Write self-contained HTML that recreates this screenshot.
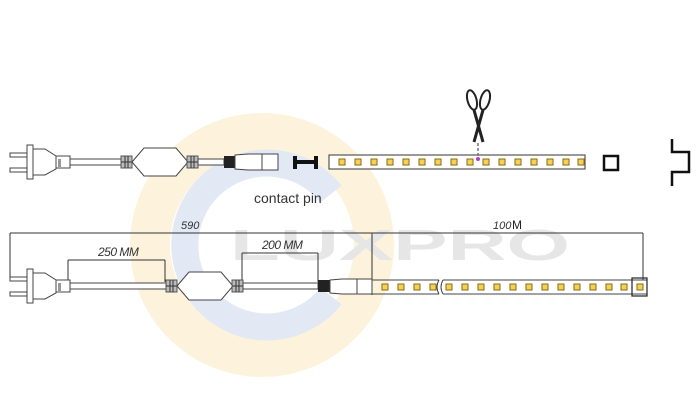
<!DOCTYPE html>
<html><head><meta charset="utf-8"><style>html,body{margin:0;padding:0;background:#fff}svg{display:block}</style></head>
<body>
<svg width="700" height="420" viewBox="0 0 700 420" xmlns="http://www.w3.org/2000/svg" font-family="Liberation Sans, sans-serif">
<defs>
<g id="plug">
  <rect x="10" y="-9" width="17" height="4" fill="#fff" stroke="#444" stroke-width="1"/>
  <rect x="10" y="6" width="17" height="4" fill="#fff" stroke="#444" stroke-width="1"/>
  <rect x="27" y="-17" width="6" height="34" fill="#fff" stroke="#444" stroke-width="1"/>
  <path d="M33 -13 L45 -13 L56 -6 L56 7 L45 13 L33 13 Z" fill="#fff" stroke="#444" stroke-width="1"/>
  <rect x="56" y="-6" width="14" height="12" fill="#fff" stroke="#444" stroke-width="1"/>
  <rect x="58" y="-3" width="3" height="8" fill="#999"/>
</g>
<g id="hex">
  <path d="M0 0 L12 -14 L44 -14 L56 0 L44 14 L12 14 Z" fill="#fff" stroke="#444" stroke-width="1"/>
</g>
<g id="clamp">
  <rect x="0" y="-6" width="11" height="12" fill="#bbb" stroke="#555" stroke-width="1"/>
  <line x1="4" y1="-6" x2="4" y2="6" stroke="#333"/><line x1="7" y1="-6" x2="7" y2="6" stroke="#333"/>
  <line x1="0" y1="0" x2="11" y2="0" stroke="#333"/>
</g>
<rect id="led" x="-3" y="-3" width="6" height="6" fill="#f3d25a" stroke="#8a6a10" stroke-width="1"/>
</defs>

<!-- watermark -->
<circle cx="262" cy="245" r="112" fill="none" stroke="#fdf3dd" stroke-width="40"/>
<path d="M331 194 A82 82 0 1 0 331 296" fill="none" stroke="#e2e9f4" stroke-width="27"/>
<text x="230" y="260" font-size="44" font-weight="bold" fill="#e6e6e6" textLength="340" lengthAdjust="spacingAndGlyphs">LUXPRO</text>

<!-- TOP ROW -->
<g transform="translate(0,162)"><use href="#plug"/></g>
<rect x="70" y="159" width="52" height="6" fill="#fff" stroke="#444" stroke-width="1"/>
<g transform="translate(121,162)"><use href="#clamp"/></g>
<g transform="translate(132,162)"><use href="#hex"/></g>
<g transform="translate(187,162)"><use href="#clamp"/></g>
<rect x="198" y="159" width="26" height="6" fill="#fff" stroke="#444" stroke-width="1"/>
<rect x="224" y="156" width="11" height="12" fill="#222"/>
<path d="M235 155 L248 154 L278 154 L278 170 L248 170 L235 169 Z" fill="#fff" stroke="#444"/>
<line x1="262" y1="154" x2="262" y2="170" stroke="#444"/>
<!-- H pin -->
<rect x="293" y="156" width="4" height="13" fill="#111"/>
<rect x="314" y="156" width="4" height="13" fill="#111"/>
<rect x="293" y="160" width="25" height="4" fill="#111"/>
<!-- strip top -->
<rect x="329" y="155" width="256" height="14" fill="#fff" stroke="#555" stroke-width="1.2"/>
<g transform="translate(0,162)">
<use href="#led" x="342"/><use href="#led" x="358"/><use href="#led" x="374"/><use href="#led" x="390"/><use href="#led" x="406"/><use href="#led" x="422"/><use href="#led" x="438"/><use href="#led" x="454"/><use href="#led" x="470"/><use href="#led" x="486"/><use href="#led" x="502"/><use href="#led" x="518"/><use href="#led" x="534"/><use href="#led" x="550"/><use href="#led" x="566"/><use href="#led" x="581"/>
</g>
<!-- scissors -->
<g stroke="#222" fill="none" stroke-width="2">
  <ellipse cx="472" cy="100" rx="4.5" ry="10" transform="rotate(-15 472 100)"/>
  <ellipse cx="485" cy="100" rx="4.5" ry="10" transform="rotate(15 485 100)"/>
  <path d="M474 110 L483 142" stroke-width="3"/>
  <path d="M483 110 L474 142" stroke-width="3"/>
</g>
<line x1="478" y1="143" x2="478" y2="157" stroke="#777" stroke-width="1.5" stroke-dasharray="3,2"/>
<circle cx="478" cy="159" r="2" fill="#b040c0"/>
<!-- square & bracket -->
<rect x="604" y="156" width="14" height="14" fill="none" stroke="#111" stroke-width="2.5"/>
<path d="M672 139 L672 152 L689 152 L689 172 L672 172 L672 186" fill="none" stroke="#111" stroke-width="2.5"/>
<text x="254" y="203" font-size="14" fill="#333">contact pin</text>

<!-- BOTTOM ROW dimensions -->
<g stroke="#333" stroke-width="1" fill="none">
<line x1="10" y1="233" x2="643" y2="233"/>
<line x1="10" y1="233" x2="10" y2="278"/>
<line x1="372" y1="233" x2="372" y2="295"/>
<line x1="643" y1="233" x2="643" y2="280"/>
<line x1="68" y1="260" x2="165" y2="260"/>
<line x1="68" y1="260" x2="68" y2="285"/>
<line x1="165" y1="260" x2="165" y2="282"/>
<line x1="242" y1="253" x2="318" y2="253"/>
<line x1="242" y1="253" x2="242" y2="282"/>
<line x1="318" y1="253" x2="318" y2="282"/>
</g>
<text x="181" y="229" font-size="11" font-style="italic" fill="#333">590</text>
<text x="98" y="256" font-size="12" font-style="italic" fill="#333" letter-spacing="-0.5">250 MM</text>
<text x="262" y="249" font-size="12" font-style="italic" fill="#333" letter-spacing="-0.5">200 MM</text>
<text x="493" y="229" font-size="11" font-style="italic" fill="#333">100</text><text x="512" y="229" font-size="12" fill="#222">M</text>

<g transform="translate(0,286)"><use href="#plug"/></g>
<rect x="70" y="283" width="97" height="6" fill="#fff" stroke="#444" stroke-width="1"/>
<g transform="translate(166,286)"><use href="#clamp"/></g>
<g transform="translate(177,286)"><use href="#hex"/></g>
<g transform="translate(232,286)"><use href="#clamp"/></g>
<rect x="243" y="283" width="75" height="6" fill="#fff" stroke="#444" stroke-width="1"/>
<rect x="318" y="280" width="12" height="12" fill="#222"/>
<path d="M330 280 L342 279 L372 279 L372 294 L342 294 L330 293 Z" fill="#fff" stroke="#444"/>
<line x1="357" y1="279" x2="357" y2="294" stroke="#444"/>
<path d="M372 280 L439 280 M372 294 L439 294 M443 280 L647 280 M443 294 L647 294 M647 280 L647 294" stroke="#444" fill="none"/>
<path d="M439 280 Q435 287 439 294 M443 280 Q439 287 443 294" stroke="#444" fill="none"/>
<rect x="632" y="278" width="15" height="18" fill="none" stroke="#222" stroke-width="1.2"/>
<g transform="translate(0,287)">
<use href="#led" x="385"/><use href="#led" x="401"/><use href="#led" x="417"/><use href="#led" x="433"/><use href="#led" x="449"/><use href="#led" x="465"/><use href="#led" x="481"/><use href="#led" x="497"/><use href="#led" x="513"/><use href="#led" x="529"/><use href="#led" x="545"/><use href="#led" x="561"/><use href="#led" x="577"/><use href="#led" x="593"/><use href="#led" x="609"/><use href="#led" x="624"/><use href="#led" x="640"/>
</g>
</svg>
</body></html>
